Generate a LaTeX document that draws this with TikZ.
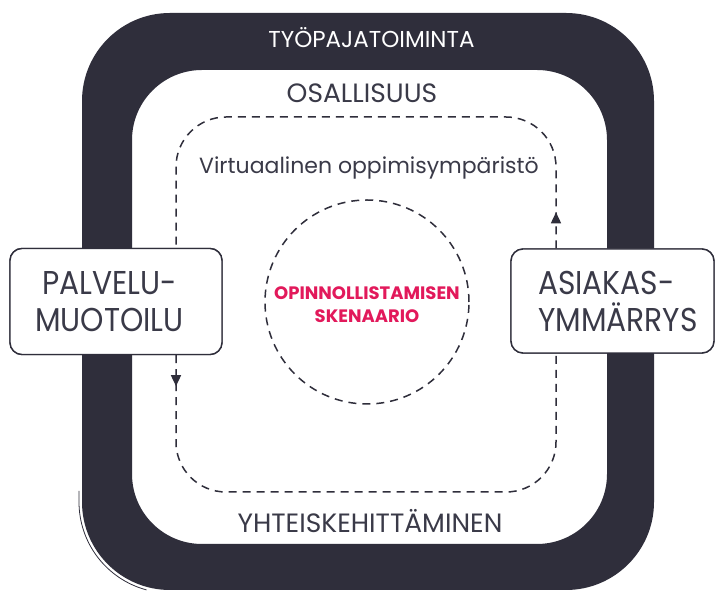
\documentclass[tikz,border=0pt]{standalone}
\usepackage{fontspec}
\setmainfont{Poppins}
\newfontfamily\boxfont[FakeStretch=0.9]{Poppins}
\usetikzlibrary{arrows.meta,decorations.markings}
\definecolor{ink}{HTML}{2F2E3B}
\definecolor{txt}{HTML}{3A3A48}
\definecolor{accent}{HTML}{E2195B}
\tikzset{
  caption/.style={text=txt, font=\fontsize{26.5}{30}\selectfont, inner sep=0pt, anchor=base},
  sidebox/.style={draw=ink, line width=1.4pt, fill=white, rounded corners=12pt},
  boxtext/.style={text=txt, font=\boxfont\fontsize{33}{40}\selectfont, inner sep=0pt, anchor=base west},
  dashline/.style={draw=ink, line width=1.5pt, dash pattern=on 8pt off 6pt},
  loop/.style={dashline, rounded corners=50pt},
  tipmark/.style={postaction={decorate}, decoration={markings,
      mark=at position #1 with {\arrow{Triangle[length=11pt,width=10pt]}}}},
}
\begin{document}
\begin{tikzpicture}[x=1pt,y=1pt]
\useasboundingbox (0,0) rectangle (715,591);
\fill[white] (0,0) rectangle (715,591);

% dark frame band
\fill[ink, even odd rule]
  [rounded corners=88pt] (82,1) rectangle (654,578)
  [rounded corners=70pt] (132,47) rectangle (607,521);
% loose pen stroke along the lower left corner
\draw[ink, line width=0.8pt] (79,100) -- (79,89) arc[start angle=180, end angle=255, radius=91];

% band and area labels
\node[caption, text=white, font=\fontsize{23}{28}\selectfont] (band) at (371.5,543) {TYÖPAJATOIMINTA};
\node[caption] (part) at (362,488) {OSALLISUUS};
\node[caption, font=\fontsize{22}{26}\selectfont] (virt) at (369,417) {Virtuaalinen oppimisympäristö};
\node[caption] (cocreate) at (370,58) {YHTEISKEHITTÄMINEN};

% corners of the dashed loop
\coordinate (loopSW) at (176,99);
\coordinate (loopSE) at (556,99);
\coordinate (loopNE) at (556,474);
\coordinate (loopNW) at (176,474);

% side boxes
\coordinate (designc) at (116,289.5);
\coordinate (insightc) at (612.5,290);
\node[sidebox, minimum width=212pt, minimum height=106pt] (design) at (designc) {};
\node[sidebox, minimum width=203pt, minimum height=104pt] (insight) at (insightc) {};

% dashed loop between the two boxes
\draw[loop, tipmark=31pt] (design.south -| loopSW) -- (loopSW) -- (loopSE) -- (insight.south -| loopSE);
\draw[loop, tipmark=36pt] (insight.north -| loopNE) -- (loopNE) -- (loopNW) -- (design.north -| loopNW);

% boxes again, over the loop ends, with their text
\node[sidebox, minimum width=212pt, minimum height=106pt] at (designc) {};
\node[sidebox, minimum width=203pt, minimum height=104pt] at (insightc) {};
\node[boxtext] (d1) at (42,296) {PALVELU-};
\node[boxtext] (d2) at (35,259) {MUOTOILU};
\node[boxtext] (i1) at (538,296) {ASIAKAS-};
\node[boxtext] (i2) at (538,259) {YMMÄRRYS};

% scenario circle
\node[circle, dashline, minimum size=204pt, inner sep=0pt] (scen) at (367,289) {};
\node[text=accent, font=\fontsize{18}{23}\selectfont\bfseries, align=center, inner sep=0pt] (scentext) at (367,286) {OPINNOLLISTAMISEN\\SKENAARIO};
\end{tikzpicture}
\end{document}
